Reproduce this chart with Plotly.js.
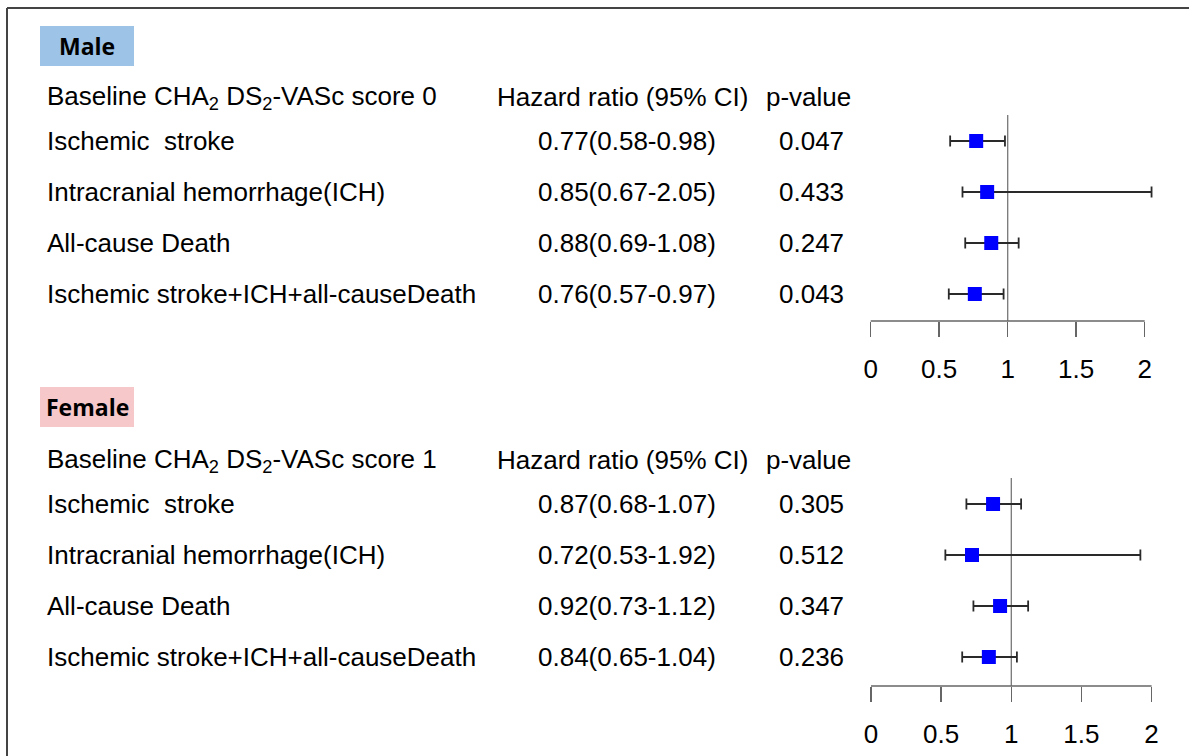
<!DOCTYPE html>
<html>
<head>
<meta charset="utf-8">
<script src="https://cdn.plot.ly/plotly-3.0.1.min.js"></script>
<style>html,body{margin:0;padding:0;background:#fff;}#chart{width:1189px;height:756px;}</style>
</head>
<body>
<div id="chart"></div>
<script>
// ---- data ----
const outcomes = ["Ischemic\u00a0 stroke", "Intracranial hemorrhage(ICH)", "All-cause Death", "Ischemic stroke+ICH+all-causeDeath"];
const maleHR = [0.77, 0.85, 0.88, 0.76];
const maleLo = [0.58, 0.67, 0.69, 0.57];
const maleHi = [0.98, 2.05, 1.08, 0.97];
const maleP = ["0.047", "0.433", "0.247", "0.043"];
const femaleHR = [0.87, 0.72, 0.92, 0.84];
const femaleLo = [0.68, 0.53, 0.73, 0.65];
const femaleHi = [1.07, 1.92, 1.12, 1.04];
const femaleP = ["0.305", "0.512", "0.347", "0.236"];
const tickVals = [0, 0.5, 1, 1.5, 2];
const tickText = ["0", "0.5", "1", "1.5", "2"];

// ---- layout helpers (pixel -> paper) ----
const W = 1189, H = 756;
const px = x => x / W;
const py = y => 1 - y / H;
const FONT = "'Liberation Sans', Arial, sans-serif";
const TXT = 26;

function xDomain(p0, s, r0, r1) { return [px(p0 + r0 * s), px(p0 + r1 * s)]; }

const rowIdx = outcomes.map((_, i) => i);

function trace(hr, lo, hi, xa, ya) {
  return {
    type: "scatter", mode: "markers", x: hr, y: rowIdx, xaxis: xa, yaxis: ya,
    marker: {symbol: "square", size: 14, color: "#0000FF"},
    error_x: {type: "data", symmetric: false,
      array: hr.map((v, i) => hi[i] - v), arrayminus: hr.map((v, i) => v - lo[i]),
      color: "#2a2a2a", thickness: 1.8, width: 5.5},
    hoverinfo: "skip", showlegend: false, cliponaxis: false
  };
}

const xr = [-0.1, 2.2];
const xAxisCommon = {
  range: xr, showgrid: false, zeroline: false, showline: false,
  ticks: "outside", ticklen: 15, tickwidth: 1.5, tickcolor: "#666666",
  tickvals: tickVals, ticktext: tickText, ticklabelstandoff: 10,
  tickfont: {family: FONT, size: 26, color: "#000"}, fixedrange: true
};
const yAxisCommon = {showgrid: false, zeroline: false, showline: false, showticklabels: false, ticks: "", fixedrange: true};

// Panel geometry
const M = {p0: 870.7, s: 137.0, top: 115, bottom: 321, row0: 141, sp: 51, head: 97, box: [40, 26, 134, 66]};
const F = {p0: 871.0, s: 140.3, top: 478, bottom: 686, row0: 504, sp: 51, head: 460, box: [40, 387, 134, 427]};

const layout = {
  width: W, height: H, margin: {l: 0, r: 0, t: 0, b: 0},
  paper_bgcolor: "#fff", plot_bgcolor: "rgba(0,0,0,0)",
  xaxis: Object.assign({}, xAxisCommon, {domain: xDomain(M.p0, M.s, xr[0], xr[1]), anchor: "y"}),
  yaxis: Object.assign({}, yAxisCommon, {domain: [py(M.bottom), py(M.top)], range: [(M.bottom - M.row0) / M.sp, (M.top - M.row0) / M.sp], anchor: "x"}),
  xaxis2: Object.assign({}, xAxisCommon, {domain: xDomain(F.p0, F.s, xr[0], xr[1]), anchor: "y2"}),
  yaxis2: Object.assign({}, yAxisCommon, {domain: [py(F.bottom), py(F.top)], range: [(F.bottom - F.row0) / F.sp, (F.top - F.row0) / F.sp], anchor: "x2"}),
  shapes: [],
  annotations: []
};

// frame
layout.shapes.push({type: "line", xref: "paper", yref: "paper", x0: px(7), x1: px(1189), y0: py(8), y1: py(8), line: {color: "#444", width: 2}});
layout.shapes.push({type: "line", xref: "paper", yref: "paper", x0: px(7), x1: px(7), y0: py(8), y1: py(756), line: {color: "#444", width: 2}});

function panel(P, label, boxColor, score, hr, lo, hi, pv, xa, ya) {
  // label box
  layout.shapes.push({type: "rect", xref: "paper", yref: "paper", x0: px(P.box[0]), x1: px(P.box[2]), y0: py(P.box[3]), y1: py(P.box[1]), fillcolor: boxColor, line: {width: 0}, layer: "below"});
  layout.annotations.push({xref: "paper", yref: "paper", x: px((P.box[0] + P.box[2]) / 2), y: py((P.box[1] + P.box[3]) / 2), xanchor: "center", yanchor: "middle", showarrow: false,
    text: "<b>" + label + "</b>", font: {family: "'Open Sans', sans-serif", size: 23, color: "#000"}});
  // headers
  const hy = py(P.head);
  layout.annotations.push({xref: "paper", yref: "paper", x: px(45), y: hy, xanchor: "left", yanchor: "middle", showarrow: false,
    text: "Baseline CHA<sub>2</sub> DS<sub>2</sub>-VASc score " + score, font: {family: FONT, size: TXT, color: "#000"}});
  layout.annotations.push({xref: "paper", yref: "paper", x: px(622), y: hy, xanchor: "center", yanchor: "middle", showarrow: false,
    text: "Hazard ratio (95% CI)", font: {family: FONT, size: TXT, color: "#000"}});
  layout.annotations.push({xref: "paper", yref: "paper", x: px(808), y: hy, xanchor: "center", yanchor: "middle", showarrow: false,
    text: "p-value", font: {family: FONT, size: TXT, color: "#000"}});
  // rows
  outcomes.forEach((o, i) => {
    layout.annotations.push({xref: "paper", yref: ya, x: px(45), y: i, xanchor: "left", yanchor: "middle", showarrow: false,
      text: o, font: {family: FONT, size: TXT, color: "#000"}});
    layout.annotations.push({xref: "paper", yref: ya, x: px(627), y: i, xanchor: "center", yanchor: "middle", showarrow: false,
      text: hr[i].toFixed(2) + "(" + lo[i].toFixed(2) + "-" + hi[i].toFixed(2) + ")", font: {family: FONT, size: TXT, color: "#000"}});
    layout.annotations.push({xref: "paper", yref: ya, x: px(811), y: i, xanchor: "center", yanchor: "middle", showarrow: false,
      text: pv[i], font: {family: FONT, size: TXT, color: "#000"}});
  });
  // axis baseline from 0 to 2 and reference line at 1
  layout.shapes.push({type: "line", xref: xa, yref: ya + " domain", x0: tickVals[0], x1: tickVals[tickVals.length - 1], y0: 0, y1: 0, line: {color: "#666666", width: 1.5}});
  layout.shapes.push({type: "line", xref: xa, yref: ya + " domain", x0: 1, x1: 1, y0: 0, y1: 1, line: {color: "#777777", width: 1.3}, layer: "below"});
}

panel(M, "Male", "#9DC3E6", "0", maleHR, maleLo, maleHi, maleP, "x", "y");
panel(F, "Female", "#F6C8CA", "1", femaleHR, femaleLo, femaleHi, femaleP, "x2", "y2");

const data = [trace(maleHR, maleLo, maleHi, "x", "y"), trace(femaleHR, femaleLo, femaleHi, "x2", "y2")];

Plotly.newPlot("chart", data, layout, {staticPlot: true, displayModeBar: false});
</script>
</body>
</html>
